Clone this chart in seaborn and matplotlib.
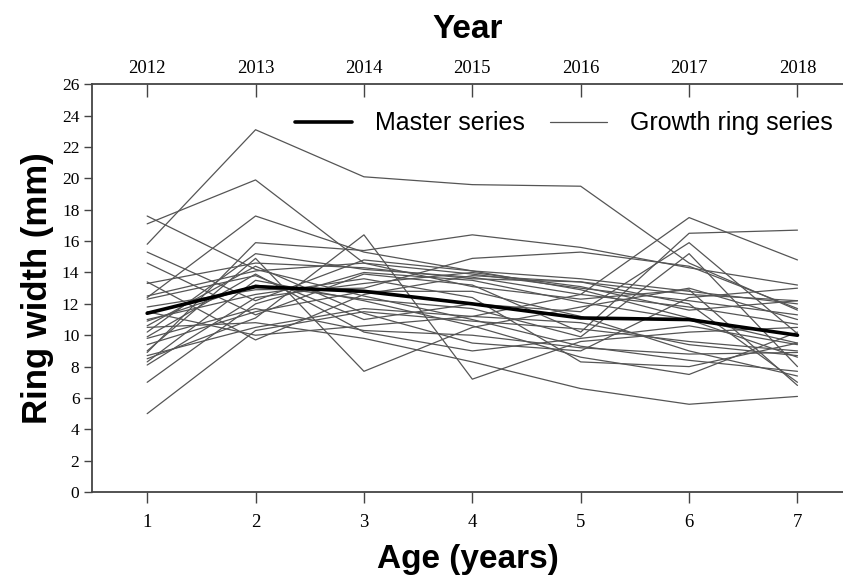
import matplotlib
matplotlib.use("Agg")
import matplotlib.pyplot as plt
from matplotlib.lines import Line2D
import numpy as np
import pandas as pd
import seaborn as sns

# ring width (mm) per tree, ages 1..7
ages = [1, 2, 3, 4, 5, 6, 7]
years = ["2012", "2013", "2014", "2015", "2016", "2017", "2018"]

s01 = [15.8, 23.1, 20.1, 19.6, 19.5, 14.6, 11.6]
s02 = [17.1, 19.9, 14.6, 13.9, 13.0, 12.2, 11.3]
s03 = [17.6, 14.2, 12.5, 11.0, 9.3, 8.4, 7.7]
s04 = [12.4, 17.6, 15.3, 14.1, 13.6, 12.8, 12.0]
s05 = [8.9, 15.9, 15.4, 16.4, 15.6, 14.3, 13.2]
s06 = [10.2, 15.2, 14.2, 13.7, 12.6, 17.5, 14.8]
s07 = [13.4, 9.7, 12.6, 13.8, 13.4, 12.6, 12.2]
s08 = [14.6, 11.3, 13.9, 13.2, 10.2, 16.5, 16.7]
s09 = [5.0, 10.3, 11.5, 10.9, 10.4, 9.6, 9.0]
s10 = [7.0, 12.0, 14.0, 13.5, 12.1, 11.0, 8.6]
s11 = [8.5, 11.1, 16.4, 7.2, 9.6, 10.2, 10.5]
s12 = [9.0, 14.9, 7.7, 10.5, 11.8, 13.0, 11.0]
s13 = [11.0, 12.6, 13.6, 12.4, 8.3, 8.0, 9.5]
s14 = [10.5, 10.8, 9.8, 8.3, 6.6, 5.6, 6.1]
s15 = [9.8, 11.7, 10.3, 10.0, 9.2, 8.8, 8.9]
s16 = [12.3, 13.8, 11.0, 12.0, 11.5, 15.9, 10.1]
s17 = [8.3, 13.5, 12.2, 10.6, 8.6, 7.5, 10.2]
s18 = [15.3, 12.2, 14.8, 14.1, 12.9, 11.1, 9.5]
s19 = [13.3, 14.6, 14.3, 13.6, 13.4, 12.0, 7.0]
s20 = [10.9, 13.2, 12.3, 11.7, 9.9, 15.2, 8.0]
s21 = [8.7, 10.5, 11.7, 11.2, 10.8, 9.4, 8.7]
s22 = [8.1, 12.4, 13.3, 14.0, 13.1, 11.6, 12.2]
s23 = [9.9, 13.9, 10.2, 9.0, 9.8, 10.6, 9.4]
s24 = [12.5, 14.1, 14.6, 13.1, 12.3, 12.9, 6.8]
s25 = [11.8, 12.9, 13.0, 14.9, 15.3, 14.4, 11.7]
s26 = [9.4, 11.5, 12.8, 12.8, 11.2, 9.0, 7.4]
s27 = [10.6, 14.4, 11.4, 9.5, 9.0, 12.4, 13.0]
s28 = [11.5, 10.0, 10.6, 11.2, 12.6, 11.8, 10.7]

master = [11.4, 13.1, 12.8, 12.0, 11.1, 11.0, 10.0]

series = [s01, s02, s03, s04, s05, s06, s07, s08, s09, s10, s11, s12, s13, s14,
          s15, s16, s17, s18, s19, s20, s21, s22, s23, s24, s25, s26, s27, s28]

rows = []
for i, s in enumerate(series):
    for a, w in zip(ages, s):
        rows.append({"tree": i, "age": a, "width": w})
df = pd.DataFrame(rows)
df_master = pd.DataFrame({"age": ages, "width": master})

sns.set_style("ticks")
plt.rcParams["font.family"] = ["Liberation Sans", "DejaVu Sans"]
plt.rcParams["text.color"] = "black"
plt.rcParams["axes.labelcolor"] = "black"
plt.rcParams["xtick.labelcolor"] = "black"
plt.rcParams["ytick.labelcolor"] = "black"

fig = plt.figure(figsize=(8.43, 5.81), dpi=100)
ax = fig.add_axes([0.109, 0.153, 0.891, 0.702])

grey = "#555555"
sns.lineplot(data=df, x="age", y="width", units="tree", estimator=None,
             color=grey, linewidth=0.9, ax=ax, legend=False)
sns.lineplot(data=df_master, x="age", y="width", color="black",
             linewidth=2.6, ax=ax, legend=False)

ax.set_xlim(0.49, 7.42)
ax.set_ylim(0, 26)
ax.set_xticks(ages)
ax.set_yticks(np.arange(0, 27, 2))

serif = {"family": "Liberation Serif"}
ax.set_xticklabels([str(a) for a in ages], fontdict=serif, fontsize=13.5)
ax.set_yticklabels([str(v) for v in range(0, 27, 2)], fontdict=serif, fontsize=12.5)

spine_c = "#444444"
for side in ["left", "bottom", "top"]:
    ax.spines[side].set_color(spine_c)
    ax.spines[side].set_linewidth(1.3)
ax.spines["right"].set_visible(False)
ax.tick_params(axis="x", direction="out", length=8, width=1, color=spine_c, pad=8)
ax.tick_params(axis="y", direction="out", length=6, width=1, color=spine_c, pad=3)

ax.set_xlabel("Age (years)", fontsize=24, fontweight="bold", labelpad=9)
ax.set_ylabel("Ring width (mm)", fontsize=25, fontweight="bold", labelpad=6)

top = ax.secondary_xaxis("top")
top.set_xticks(ages)
top.set_xticklabels(years, fontdict=serif, fontsize=13.5)
top.tick_params(direction="in", length=9, width=1, color=spine_c, pad=5)
top.spines["top"].set_visible(False)
top.set_xlabel("Year", fontsize=24, fontweight="bold", labelpad=16)

handles = [Line2D([], [], color="black", linewidth=2.6),
           Line2D([], [], color=grey, linewidth=0.9)]
ax.legend(handles, ["Master series", "Growth ring series"], loc="center right",
          bbox_to_anchor=(1.006, 0.904), frameon=False, fontsize=18,
          ncol=2, handlelength=2.3, handletextpad=0.9, columnspacing=1.0,
          borderaxespad=0.2)

fig.savefig("out.png", dpi=100)
